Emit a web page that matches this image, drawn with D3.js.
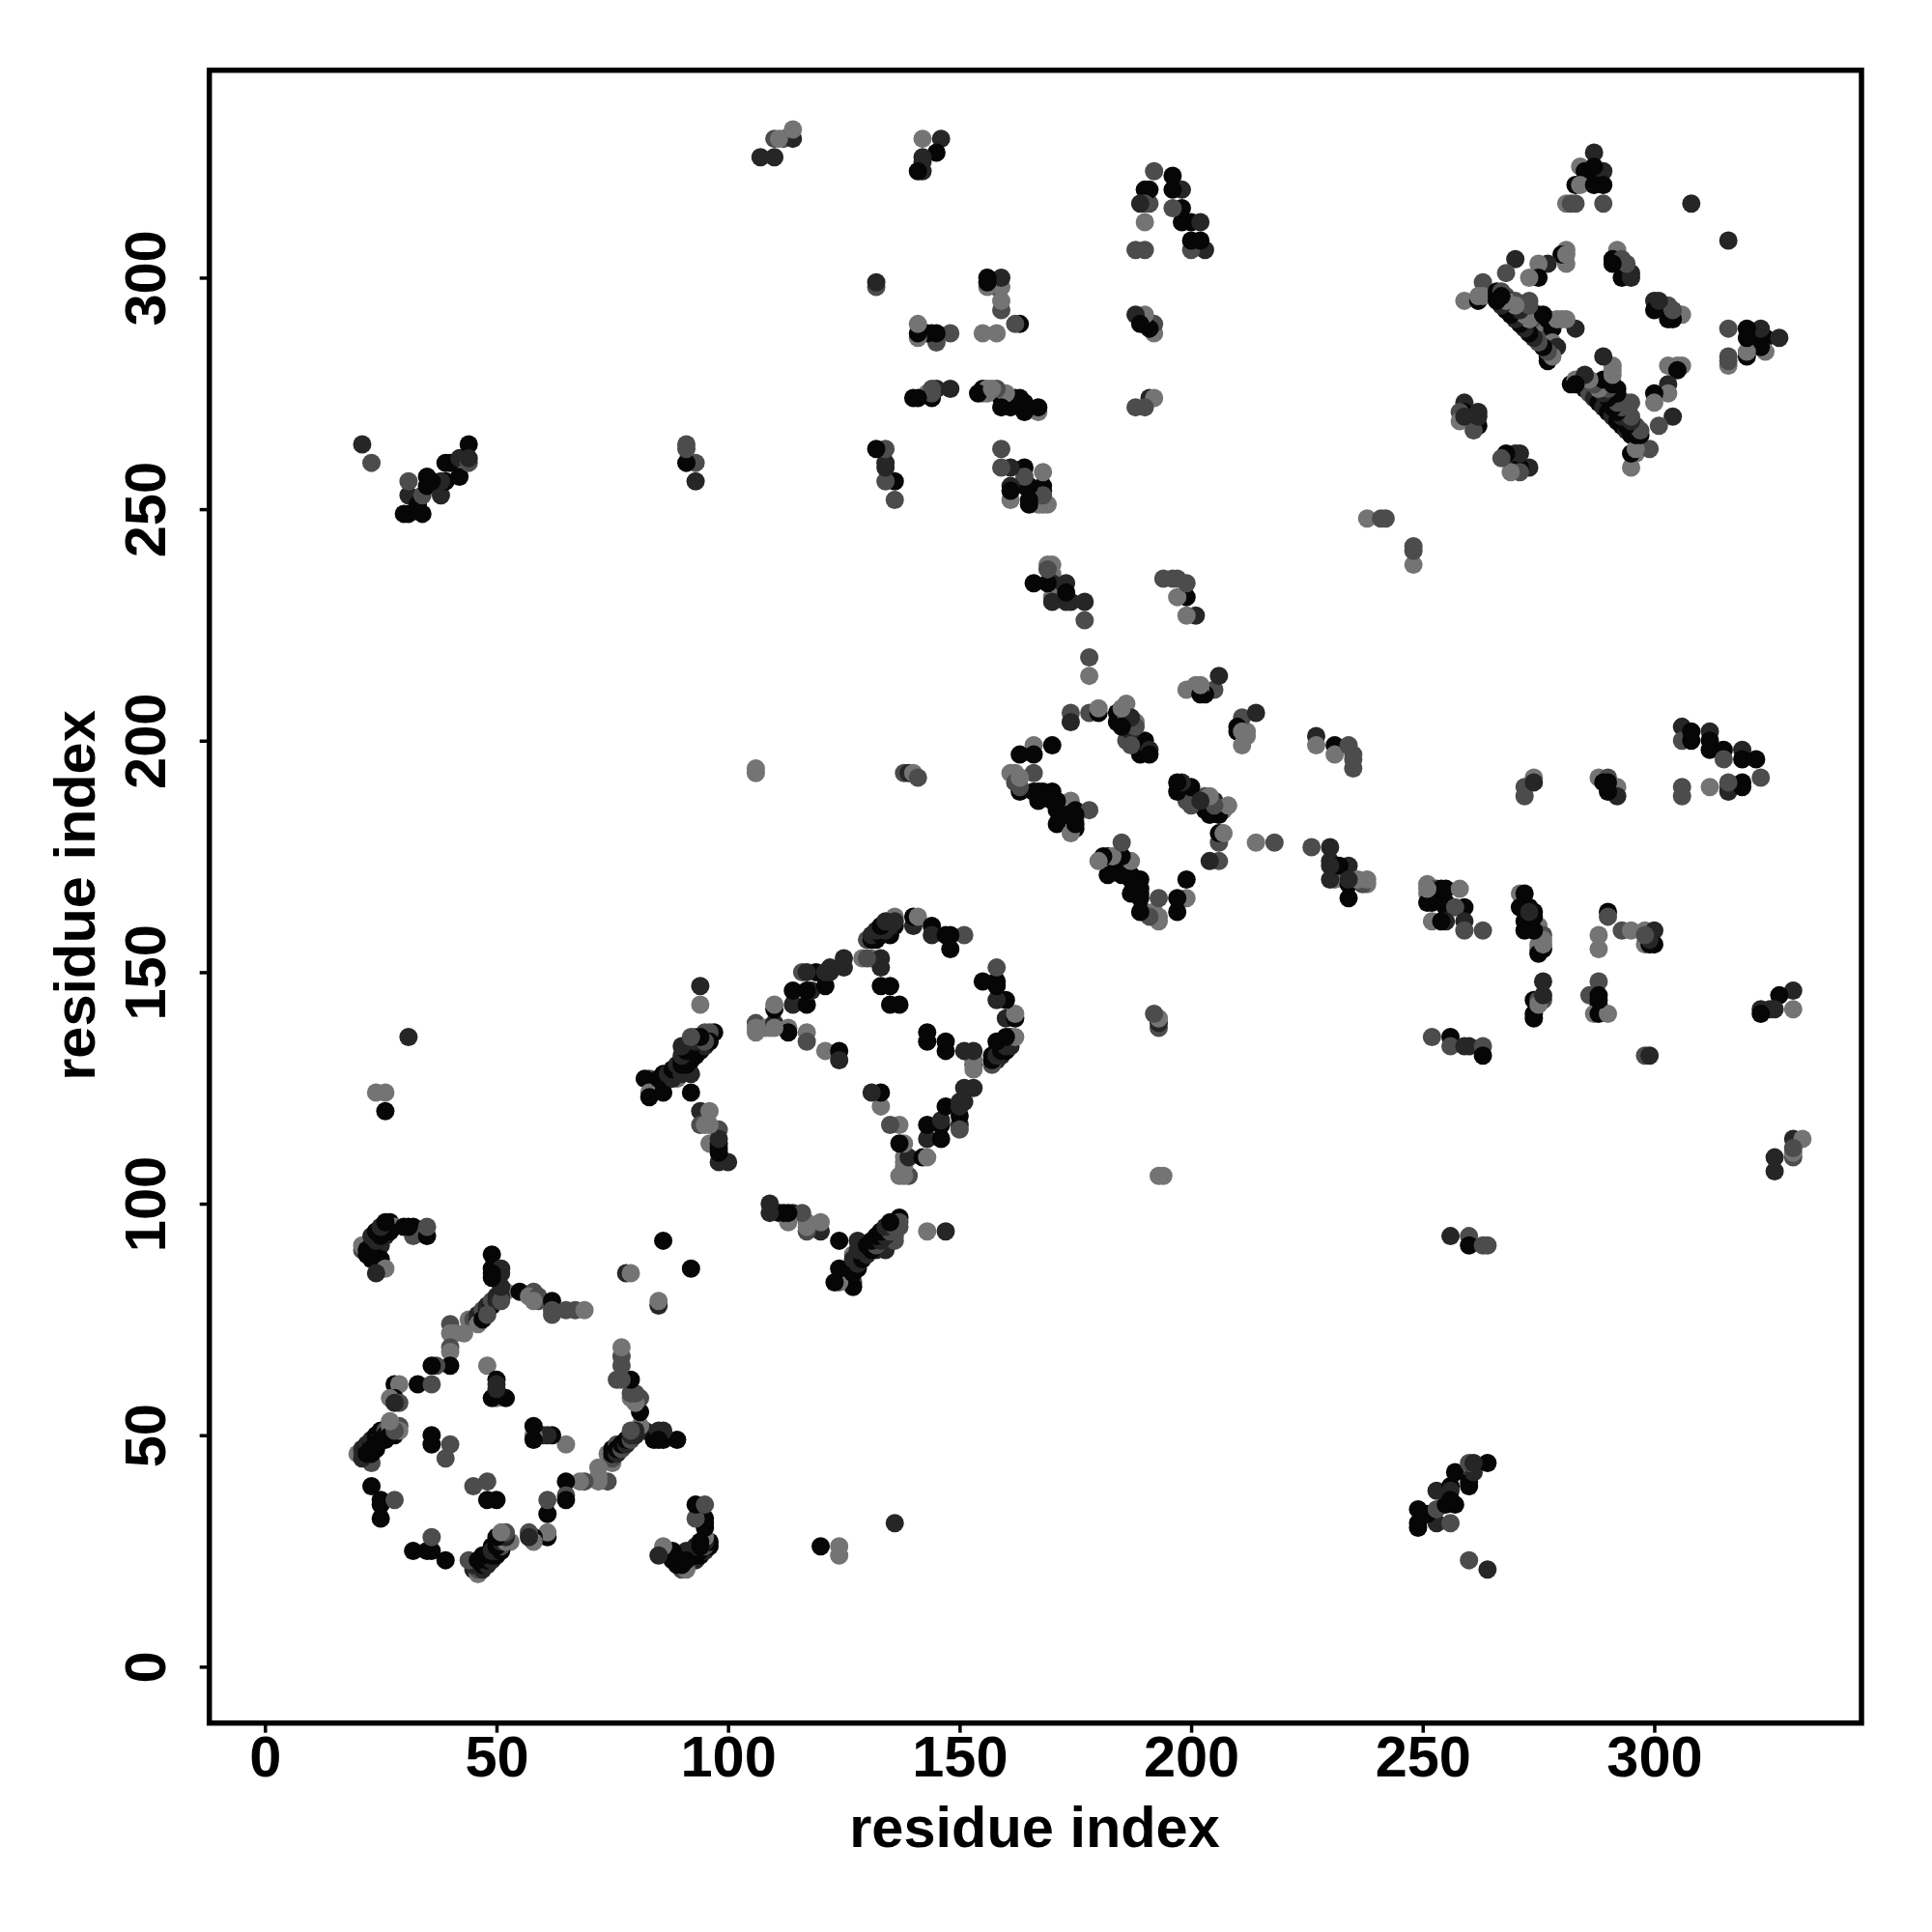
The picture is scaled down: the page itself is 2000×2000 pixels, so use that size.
<!DOCTYPE html>
<html><head><meta charset="utf-8">
<script src="https://cdn.jsdelivr.net/npm/d3@7"></script>
<style>html,body{margin:0;padding:0;background:#fff}svg{display:block}</style>
</head><body>
<svg id="c" width="2000" height="2000"></svg>
<script>
// each contact: [residue i, residue j, shade level]; the map is symmetric, so each is drawn both ways
const domainA=[[21,90,2],[22,91,2],[22,89,0],[23,92,1],[23,88,0],[24,93,0],[24,90,0],[24,88,0],[25,94,0],[25,91,1],[25,88,0],[26,95,2],[26,93,1],[27,96,0],[27,95,1],[28,95,3],[26,86,3],[24,85,1],[30,95,0],[32,95,0],[32,93,2],[35,93,0],[35,95,2],[21,91,3],[22,90,0],[23,90,0],[26,94,0],[27,94,0],[23,91,0]];
const ringOne=[[49,89,0],[49,86,0],[51,86,1],[51,85,1],[49,85,0],[52,81,3],[55,81,0],[58,81,2],[57,80,3],[59,79,2],[59,80,2],[62,79,0],[62,77,2],[65,77,2],[67,77,2],[69,77,3],
[44,75,3],[45,75,2],[46,75,0],[46,76,1],[47,76,0],[47,77,2],[48,77,0],[48,78,1],[49,78,0],[49,79,2],[50,79,1],[50,80,1],[51,80,1],[51,79,2],
[40,74,2],[40,72,3],[43,72,3],[41,72,3],[40,69,2],[40,68,3],[40,65,0],[37,65,2],[36,65,0],[33,61,0],[36,61,2],[28,61,0],[29,61,3],[28,58,0],[27,58,3],[29,57,2],[28,57,1],
[20,46,3],[21,46,2],[21,47,1],[22,45,1],[22,47,0],[22,48,1],[23,44,2],[23,46,0],[23,48,0],[23,49,1],[24,47,0],[24,49,0],[24,50,0],[25,49,1],[25,50,1],[25,51,0],[26,51,2],[26,50,0],[27,51,1],[27,52,3],[28,52,1],[28,50,0],[29,52,2],[29,51,3],
[23,39,0],[25,36,0],[25,35,0],[25,32,0],[28,36,2],[25,32,0],[32,25,0],[35,25,0],[36,25,0],[36,28,2],[39,23,0],
[44,23,2],[45,22,0],[45,21,1],[46,20,2],[46,22,0],[47,21,2],[47,23,0],[48,22,1],[48,24,0],[49,23,1],[49,25,0],[49,26,0],[50,24,1],[50,26,3],[50,27,0],[51,25,1],[51,28,2],[52,27,2],[52,29,2],[53,27,3],
[57,29,2],[58,27,3],[58,28,0],[61,28,0],[61,29,3],[61,36,2],[61,33,0],[65,40,0],[65,36,0],[65,37,1],[68,40,3],[69,40,2],[72,43,3],[72,41,3],[74,40,2],
[74,46,3],[75,46,2],[75,47,0],[76,47,0],[76,48,2],[77,47,1],[77,48,0],[78,49,0],[78,48,1],[79,50,1],[79,49,0],[80,50,1],[80,51,1],[82,51,1],[84,49,0],[85,51,1],[86,51,1],[86,49,0],[89,49,0],[81,55,0],[81,58,2],[79,58,3],[79,62,0],[76,62,2],[77,65,2],[77,67,2],[77,69,3],
[48,65,3],[50,62,0],[50,61,1],[50,58,3],[49,58,0],[52,58,0],[58,52,0],[58,50,0],[62,50,0],[60,50,1],[65,48,3],[36,50,0],[36,48,0],[40,48,2],[39,45,2],[45,39,2],[48,40,3],[48,36,0],[50,36,0],
[85,24,1],[86,26,3],[88,24,0],[88,23,0],[89,22,0],[90,23,1],[90,22,0],[91,21,2],[91,22,0],[92,23,0],[92,24,1],[93,23,1],[93,25,0],[94,24,0],[94,26,1],[95,25,1],[95,27,1],[96,27,0],[96,26,0],[93,35,0],[95,35,2],[93,32,2],[95,31,0],
[86,92,0],[78,85,1],[79,85,3]];
const ringTwo=[[94,147,1],[94,143,3],[97,137,0],[95,137,2],[93,136,2],[92,128,1],[92,124,0],[83,127,2],[82,127,0],[83,124,3],[83,123,0],[86,128,0],[86,124,0],[89,127,3],[85,127,0],[86,126,0],[87,128,1],[88,127,1],[88,129,0],[89,129,0],[89,130,1],[90,128,1],[90,131,0],[91,130,0],[91,132,2],[92,131,0],[92,133,1],[93,132,0],[93,134,1],[94,133,0],[94,135,2],[95,134,1],[95,136,2],[96,137,2],[96,135,0],
[94,120,1],[96,120,3],[94,117,2],[95,117,3],[98,116,2],[96,113,3],[98,113,0],[98,112,0],[98,109,1],[100,109,1],
[109,100,0],[109,98,1],[111,98,0],[113,96,2],[114,98,1],[116,98,2],[117,96,3],[117,94,2],[120,96,3],[120,94,1],[124,92,0],[128,92,1],[127,89,3],[128,90,3],[124,86,0],[126,86,1],[123,83,0],[124,83,3],[127,83,2],[128,86,0],[127,85,2],[129,88,1],[130,90,0],[130,89,1],[131,91,0],[131,90,1],[132,92,0],[132,90,1],[133,94,0],[133,91,0],[134,92,0],[134,90,1],[135,93,1],[135,95,2],[136,94,0],[136,92,2],[137,95,2],[137,96,1],[137,97,0],[143,94,3],[147,94,1],
[106,139,2],[106,138,3],[109,138,3],[108,138,3],[110,139,1],[110,142,0],[110,143,3],[113,138,3],[113,137,0],[114,143,1],[114,146,0],[117,143,0],[118,146,1],[121,147,0],[119,150,0],[116,150,2],[121,150,1],[122,150,1],[125,151,1],[125,153,1],[117,137,3],[117,135,2],[121,133,3],[124,133,0],[124,131,1],
[129,153,3],[131,153,3],[133,153,1],[133,151,1],[133,147,0],[135,147,0],[135,143,0],[137,143,0],[130,157,2],[131,157,0],[132,158,1],[133,159,0],[134,160,1],[136,162,3],[135,158,0],[136,160,0],[140,160,1],[140,162,0],[141,162,3],[144,160,0],[144,158,1],[147,158,0],[148,155,0],[151,158,2],
[158,151,2],[155,148,0],[158,148,0],[158,144,0],[160,144,0],[162,141,3],[160,140,0],[162,140,0],[162,136,3],[160,135,1],[157,130,2],[157,132,0],[158,131,1],[158,133,0],[159,132,1],[159,134,1],[160,133,0],[161,134,1],[161,136,1],[153,133,1],[151,133,2],[153,130,2],[153,129,3],[143,137,0],[143,135,0],[147,135,0],[147,133,0],[131,124,1],[133,124,0],[133,121,3],[135,117,3],[137,117,3],[138,113,3],[137,113,0],[139,110,1],[138,110,3],[138,106,3],[137,106,3],[143,110,3],[143,114,1],[143,117,0],[146,114,0],[146,117,0],[147,121,0],[150,117,1],[150,116,0],[151,122,1],[151,125,1],[153,125,1]];
const ringThree=[[178,218,2],[178,214,3],[174,206,2],[174,204,1],[178,206,2],[180,206,0],[180,207,3],[184,206,0],[186,208,3],[184,204,0],[186,205,2],[188,204,3],[186,200,2],[190,200,0],[189,197,0],[191,198,1],[191,197,0],[187,202,1],
[166,199,3],[170,199,0],[166,197,0],[163,197,0],[162,193,3],[161,193,3],[166,193,2],[162,191,2],[163,189,0],[166,189,0],[167,187,0],[168,189,0],[170,189,0],[170,187,0],[171,185,0],[171,182,0],[174,187,3],[175,185,0],[175,183,3],[178,185,2],[175,181,0],[174,180,3],
[197,191,0],[198,191,1],[197,189,0],[200,190,0],[199,187,2],[203,188,2],[205,187,1],[203,185,0],[206,184,0],[208,186,3],[207,185,3],[207,180,3],[206,180,0],[206,178,1],[204,174,1],[206,174,2],[214,178,3],[218,178,2],[226,177,2],[230,177,1],[230,174,1],[231,170,3],[230,170,1],[234,173,1],[232,173,0],[234,169,0],[238,169,3],[237,169,2],[234,166,0],
[185,178,2],[181,175,0],[182,175,0],[180,174,2],[184,175,0],[184,173,0],[187,174,3],[182,171,0],[185,171,0],[189,170,0],[187,171,0],[187,167,0],[189,167,0],[189,163,0],[193,166,2],[190,163,2],[192,163,3],[193,162,3],[197,166,0],[199,166,3],[197,163,1],[199,170,0],
[201,212,3],[199,211,3],[205,211,2],[206,214,1],[203,210,0],[202,211,3],[214,206,1],[211,205,2],[210,203,2],[210,202,0],[212,202,3],[212,201,2],[227,201,1],[227,199,3],[231,199,0],[231,197,3],[234,199,2],[235,197,2],[235,194,2],[235,196,2],
[166,234,0],[170,238,3],[170,236,3],[170,234,1],[173,234,1],[173,232,0],[170,230,3],[173,230,1],[177,230,1],[177,226,1],[194,235,2],[197,235,2],[199,234,1],[197,231,3],[199,231,0],[199,227,3],[201,227,0]];
const crossRight=[[251,169,3],[251,167,3],[255,168,0],[253,168,2],[258,168,3],[251,165,0],[252,165,0],[255,165,0],[255,164,0],[259,164,0],[257,164,2],[252,161,3],[255,161,1],[254,161,0],[259,161,1],[259,159,2],[263,159,2],
[271,167,3],[272,167,0],[271,164,0],[273,164,0],[274,163,0],[272,161,0],[275,160,3],[272,159,0],[276,158,2],[275,155,3],[275,156,3],[275,154,0],[276,157,3],
[290,163,0],[290,162,2],[288,158,3],[288,155,3],[293,159,2],[295,159,3],[298,159,3],[300,159,1],[298,156,3],[300,156,0],[299,156,0],
[276,148,1],[274,144,0],[276,144,2],[275,144,2],[274,141,0],[274,140,0],[288,148,2],[286,145,2],[288,145,0],[288,143,0],[287,141,3],[288,141,0],[290,141,3],
[252,136,2],[256,136,0],[256,134,2],[259,134,1],[260,134,1],[263,134,2],[263,132,0],[298,132,2],[299,132,1],
[330,146,1],[327,145,0],[330,142,3],[326,142,1],[325,142,1],[323,142,1],[323,141,0],[330,114,1],[332,114,3],[330,110,2],[330,111,3],[326,110,1],[326,107,1],
[256,93,1],[260,93,2],[260,91,0],[263,91,2],[264,91,2],
[306,203,1],[306,200,2],[308,200,0],[308,202,0],[312,202,1],[312,198,0],[315,198,0],[315,196,2],[319,198,1],[319,196,0],[322,196,0],[323,192,2],[319,191,0],[316,190,2],[316,189,1],[312,190,3],[306,190,2],[306,188,2],[274,192,3],[272,190,2],[272,188,2],[288,192,3],[290,192,2],[289,191,0],[292,190,3],[292,188,1],[290,189,0],[238,248,3],[241,248,2],[242,248,2],[248,242,2],[248,241,3],[248,238,3]];
const crossTop=[[21,264,1],[23,260,2],[30,249,0],[31,249,0],[31,253,1],[31,256,2],[33,251,0],[34,253,2],[34,249,0],[35,257,0],[35,255,0],[38,253,1],[39,260,0],[39,256,0],[40,260,0],[42,261,1],[42,257,0],[44,264,0],[44,260,2],[44,261,1],[38,256,1],[36,256,0],
[91,264,3],[91,263,2],[91,260,0],[93,260,1],[93,256,0],[107,326,1],[110,326,1],[110,330,2],[112,330,2],[114,330,1],[114,332,3],
[142,330,3],[146,330,1],[142,326,1],[145,327,0],[141,323,0],[142,323,1],[132,299,1],[132,298,2],[156,300,0],[156,298,0],[159,300,1],[157,299,1],[158,298,2],[159,295,3],[159,293,2],[163,290,0],[162,290,0],[155,288,3],[158,288,3],
[141,290,3],[141,288,0],[141,287,2],[144,288,0],[145,286,1],[148,288,2],[140,274,0],[141,274,0],[144,274,0],[143,275,3],[145,276,1],[148,276,1],
[155,276,0],[156,276,3],[158,276,3],[159,274,0],[160,275,2],[162,274,0],[163,273,1],[164,271,0],[167,272,0],[167,271,3],
[132,263,0],[134,263,3],[134,260,1],[134,259,1],[134,256,1],[136,256,0],[136,252,2],[159,263,3],[159,259,2],[161,259,0],[164,259,0],[168,258,3],[161,255,0],[165,255,0],[168,254,0],[161,252,3],[165,251,0],[168,251,3],[169,251,3],
[192,323,2],[196,322,0],[196,319,0],[198,319,1],[191,319,0],[190,319,0],[190,316,0],[191,316,2],[196,315,2],[198,315,0],[198,312,0],[200,312,0],[202,312,1],[200,308,0],[202,308,0],[200,306,3],[203,306,1],[190,312,3],[188,306,2],[190,306,2],
[188,292,1],[190,292,3],[192,290,2],[189,290,0],[191,290,0],[192,288,3],[188,272,1],[190,272,1],[192,274,2],[191,274,1]];
const ringFour=[[287,327,1],[284,324,3],[285,323,0],[287,323,0],[289,323,1],[283,320,0],[284,320,3],[287,320,0],[289,320,0],[289,316,2],[281,316,3],[283,316,2],[282,316,2],[308,316,1],[316,308,1],
[270,304,1],[268,301,2],[281,306,3],[281,303,3],[280,305,0],[277,303,1],[275,303,3],[275,300,0],[273,300,3],[292,306,3],[291,304,0],[293,304,2],[293,300,0],[295,301,1],[300,295,1],[300,293,0],[303,294,2],[306,292,3],[303,291,0],
[263,299,2],[259,295,3],[262,295,0],[263,296,3],[266,297,0],[266,296,0],[267,297,2],[268,296,2],[268,294,0],[269,295,1],[270,293,1],[270,295,2],[271,294,2],[271,292,0],[272,293,2],[272,291,0],[273,292,2],[273,295,2],[274,291,2],[274,290,0],[275,292,0],[275,289,1],[276,290,2],[276,288,3],[277,291,0],[277,287,2],[278,289,0],[278,286,3],[279,285,1],[277,283,0],[280,291,3],[279,291,3],[283,289,1],
[316,289,2],[320,289,0],[320,287,0],[323,289,1],[324,287,0],[327,287,1],[324,284,3],[320,283,0],[320,284,3],[316,283,2],[316,281,3],[291,281,3],[289,283,1],[303,281,3],[305,281,3],[305,280,1],[303,277,1],[303,275,3],[300,275,0],[300,273,3],[301,268,2],[304,270,1],
[285,279,1],[282,277,0],[283,278,3],[284,277,2],[285,276,0],[286,278,2],[286,275,2],[287,277,0],[287,274,1],[288,276,2],[288,273,0],[289,275,2],[289,272,1],[290,274,3],[290,271,0],[291,273,3],[291,270,1],[292,276,0],[292,272,3],[292,269,0],[293,271,1],[293,268,0],[294,273,2],[294,270,3],[294,267,1],[295,268,3],[295,266,0],[296,266,0],[296,267,0],[297,266,0],[295,273,2],[295,259,3],[295,262,0],[296,262,3],[299,263,2],
[259,273,1],[259,271,0],[258,271,2],[258,269,3],[262,271,1],[262,268,0],[261,267,2],[267,261,2],[268,262,0],[270,262,1],[270,259,1],[269,258,3],[273,259,1]];
const crossMisc=[[26,120,0],[24,124,3],[26,124,3],[31,136,1],[106,194,3],[106,193,3],[138,193,2],[139,193,1],[140,193,3],[141,192,2],[192,141,2]];
const shadeColors=["#060606","#262626","#4c4c4c","#747474"];
const tickValues=[0,50,100,150,200,250,300];
const axisTitle="residue index";

const seen=new Set(), contacts=[];
[domainA,ringOne,ringTwo,ringThree,crossRight,crossTop,ringFour,crossMisc].forEach(list=>list.forEach(([a,b,s])=>{
  const k=Math.min(a,b)+"-"+Math.max(a,b);
  if(!seen.has(k)){seen.add(k);contacts.push([a,b,s]);}
}));
const points=contacts.concat(contacts.map(([a,b,s])=>[b,a,s]));

const L=216.7,R=1927,T=72.7,B=1783.7;
const x=d3.scaleLinear().domain([-12.01,344.75]).range([L,R]);
const y=d3.scaleLinear().domain([-12.17,344.8]).range([B,T]);
const svg=d3.select("#c");
const font="'Liberation Sans',Arial,sans-serif";

svg.append("g").selectAll("circle").data(points).join("circle")
  .attr("cx",d=>x(d[0])).attr("cy",d=>y(d[1])).attr("r",9.5)
  .attr("fill",d=>shadeColors[d[2]]);

svg.append("rect").attr("x",L).attr("y",T).attr("width",R-L).attr("height",B-T)
  .attr("fill","none").attr("stroke","#000").attr("stroke-width",5.5);

const gx=svg.append("g").attr("transform",`translate(0,${B})`)
  .call(d3.axisBottom(x).tickValues(tickValues).tickSize(10).tickPadding(0));
const gy=svg.append("g").attr("transform",`translate(${L},0)`)
  .call(d3.axisLeft(y).tickValues(tickValues).tickSize(10).tickPadding(0));
[gx,gy].forEach(g=>{g.select(".domain").remove();g.selectAll("line").attr("stroke","#000").attr("stroke-width",3.5);});
gx.selectAll("text").attr("dy",null).attr("y",55.5)
  .style("font",`bold 59.5px ${font}`).attr("fill","#000").attr("text-anchor","middle");
gy.selectAll("text").attr("x",null).attr("dy",null)
  .attr("transform","translate(-45.7,0) rotate(-90)")
  .style("font",`bold 59.5px ${font}`).attr("fill","#000").attr("text-anchor","middle");

svg.append("text").attr("x",1071).attr("y",1912).attr("text-anchor","middle")
  .style("font",`bold 59.5px ${font}`).text(axisTitle);
svg.append("text").attr("transform","translate(98,927) rotate(-90)").attr("text-anchor","middle")
  .style("font",`bold 59.5px ${font}`).text(axisTitle);
</script>
</body></html>
